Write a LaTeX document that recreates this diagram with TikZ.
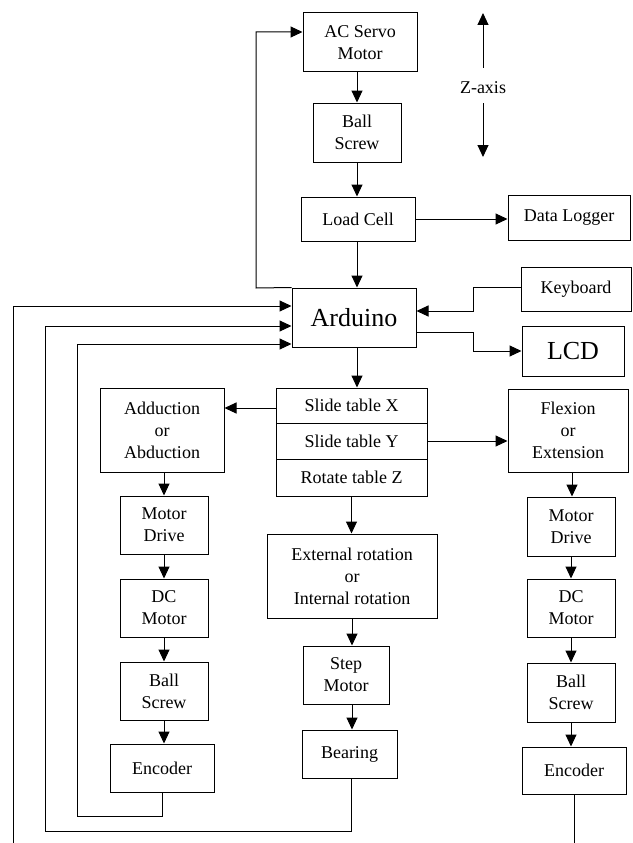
\documentclass[tikz,border=0pt]{standalone}
\usepackage{fontspec}
\setmainfont{Liberation Serif}
\usetikzlibrary{arrows.meta}
\begin{document}
\begin{tikzpicture}[x=1pt,y=-1pt,
  box/.style={draw, line width=1pt, align=center, inner sep=1pt, font=\fontsize{18}{22}\selectfont},
  big/.style={font=\fontsize{26}{30}\selectfont},
  arr/.style={line width=1pt, -{Triangle[length=12pt,width=11pt]}},
  ln/.style={line width=1pt}]
\useasboundingbox (0,0) rectangle (632,843);
\fill[white] (0,0) rectangle (632,843);

% top column
\node[box, minimum width=114pt, minimum height=59pt] (acs) at (360,42.5) {AC Servo\\Motor};
\node[box, minimum width=88pt, minimum height=59pt] (bs0) at (357,132.5) {Ball\\Screw};
\node[box, minimum width=114pt, minimum height=44pt] (lc) at (358,219) {Load Cell};
\node[box, minimum width=122pt, minimum height=45pt] (dl) at (569,217.5) {Data Logger};
\node[box, minimum width=110pt, minimum height=44pt] (kb) at (576,289) {Keyboard};
\node[box, big, minimum width=124pt, minimum height=59pt] (ard) at (354,317.5) {Arduino};
\node[box, big, minimum width=102pt, minimum height=50pt] (lcd) at (573,351) {LCD};

% Z axis
\node[font=\fontsize{18}{22}\selectfont, inner sep=0pt] (zax) at (483,88) {Z-axis};
\coordinate (ztop) at (483,13);
\coordinate (zbot) at (483,157);
\draw[arr] (zax) ++(0,-20) -- (ztop);
\draw[arr] (zax) ++(0,15) -- (zbot);

% slide table
\node[box, minimum width=151pt, minimum height=35pt] (sx) at (351.5,405.5) {Slide table X};
\node[box, minimum width=151pt, minimum height=36pt] (sy) at (351.5,441) {Slide table Y};
\node[box, minimum width=151pt, minimum height=37pt] (sz) at (351.5,477.5) {Rotate table Z};

% left column
\node[box, minimum width=124pt, minimum height=84pt] (add) at (162,430) {Adduction\\or\\Abduction};
\node[box, minimum width=88pt, minimum height=58pt] (md1) at (164,525) {Motor\\Drive};
\node[box, minimum width=88pt, minimum height=58pt] (dc1) at (164,608) {DC\\Motor};
\node[box, minimum width=88pt, minimum height=58pt] (bs1) at (164,691) {Ball\\Screw};
\node[box, minimum width=104pt, minimum height=48pt] (enc1) at (162,768) {Encoder};

% middle column
\node[box, minimum width=170pt, minimum height=84pt] (ext) at (352,576) {External rotation\\or\\Internal rotation};
\node[box, minimum width=86pt, minimum height=58pt] (step) at (346,675) {Step\\Motor};
\node[box, minimum width=95pt, minimum height=48pt] (bear) at (349.5,754) {Bearing};

% right column
\node[box, minimum width=120pt, minimum height=83pt] (flex) at (568,430.5) {Flexion\\or\\Extension};
\node[box, minimum width=88pt, minimum height=59pt] (md2) at (571,526.5) {Motor\\Drive};
\node[box, minimum width=88pt, minimum height=58pt] (dc2) at (571,608) {DC\\Motor};
\node[box, minimum width=88pt, minimum height=59pt] (bs2) at (571,692.5) {Ball\\Screw};
\node[box, minimum width=104pt, minimum height=47pt] (enc2) at (574,770.5) {Encoder};

% top chain
\draw[arr] (bs0.north |- acs.south) -- (bs0.north);
\draw[arr] (bs0.south) -- (bs0.south |- lc.north);
\draw[arr] ([xshift=-1pt]lc.south) -- ([xshift=-1pt]lc.south |- ard.north);
\draw[arr] (lc.east) -- (lc.east -| dl.west);
\draw[arr] (ard.north west) -- (256,288) -- (256,32) -- ([yshift=10.5pt]acs.west);
\draw[arr] (kb.west) ++(0,-2) -- (473,287) -- (473,311) -- ([yshift=6.5pt]ard.east);
\draw[arr] ([yshift=-14.5pt]ard.east) -- (473,332) -- (473,351) -- (lcd.west);
\draw[arr] ([xshift=3pt]ard.south) -- ([xshift=3pt]ard.south |- sx.north);

% slide table outputs
\draw[arr] ([yshift=-2.5pt]sx.west) -- ([yshift=-2.5pt]sx.west -| add.east);
\draw[arr] (sy.east) -- (sy.east -| flex.west);
\draw[arr] (sz.south) -- (sz.south |- ext.north);

% left chain
\draw[arr] (md1.north |- add.south) -- (md1.north);
\draw[arr] (md1.south) -- (dc1.north);
\draw[arr] (dc1.south) -- (bs1.north);
\draw[arr] (bs1.south) -- (bs1.south |- enc1.north);

% middle chain
\draw[arr] (ext.south) -- (ext.south |- step.north);
\draw[arr] (ext.south |- step.south) -- (ext.south |- bear.north);

% right chain
\draw[arr] ([xshift=4pt]flex.south) -- ([xshift=4pt]flex.south |- md2.north);
\draw[arr] (md2.south) -- (dc2.north);
\draw[arr] (dc2.south) -- (bs2.north);
\draw[arr] (bs2.south) -- (bs2.south |- enc2.north);

% feedback loops
\coordinate (b1) at (13,843);
\coordinate (b4) at (574,843);
\draw[arr] (b1) -- (13,306) -- ([yshift=11.5pt]ard.west);
\draw[arr] ([xshift=1.5pt]bear.south) -- (351,831) -- (45,831) -- (45,326) -- ([yshift=-8.5pt]ard.west);
\draw[arr] (enc1.south) -- (162,816) -- (77,816) -- (77,344) -- ([yshift=-26.5pt]ard.west);
\draw[ln] (enc2.south) -- (b4);
\end{tikzpicture}
\end{document}
